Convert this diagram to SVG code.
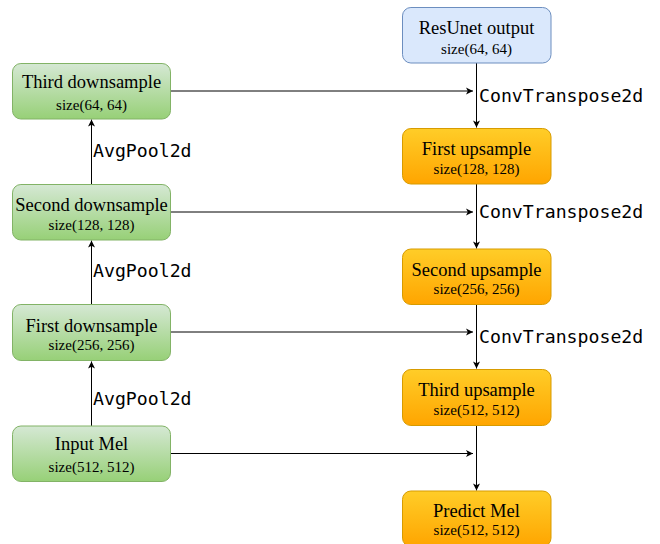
<svg xmlns="http://www.w3.org/2000/svg" width="660" height="544" viewBox="0 0 660 544">
<defs>
<linearGradient id="gGreen" x1="0" y1="0" x2="0" y2="1"><stop offset="0" stop-color="#d5e8d4"/><stop offset="1" stop-color="#97d077"/></linearGradient>
<linearGradient id="gOrange" x1="0" y1="0" x2="0" y2="1"><stop offset="0" stop-color="#ffcd28"/><stop offset="1" stop-color="#ffa500"/></linearGradient>
<marker id="arr" markerUnits="userSpaceOnUse" markerWidth="10" markerHeight="10" viewBox="0 0 10 10" refX="8" refY="5" orient="auto">
<path d="M1,1.5 L8,5 L1,8.5 L2.8,5 Z" fill="#000"/>
</marker>
<style>
.green{fill:url(#gGreen);stroke:#82b366;stroke-width:1}
.blue{fill:#dae8fc;stroke:#6c8ebf;stroke-width:1}
.orange{fill:url(#gOrange);stroke:#d79b00;stroke-width:1}
.t{font-family:"Liberation Serif","Times New Roman",serif;font-size:18.5px;fill:#000;text-anchor:middle}
.s{font-family:"Liberation Serif","Times New Roman",serif;font-size:15px;fill:#000;text-anchor:middle}
.m{font-family:"DejaVu Sans Mono",monospace;font-size:18.2px;fill:#000}
.c{stroke:#000;stroke-width:1;fill:none;marker-end:url(#arr)}
</style>
</defs>
<rect width="660" height="544" fill="#fff"/>
<g id="connectors">
<path class="c" d="M91.5,184 L91.5,119.5"/>
<path class="c" d="M91.5,304 L91.5,240.5"/>
<path class="c" d="M91.5,426 L91.5,361.5"/>
<path class="c" d="M171,91 L473,91"/>
<path class="c" d="M171,212 L473,212"/>
<path class="c" d="M171,332 L473,332"/>
<path class="c" d="M171,453.5 L473,453.5"/>
<path class="c" d="M476.5,63 L476.5,127.5"/>
<path class="c" d="M476.5,184 L476.5,248.5"/>
<path class="c" d="M476.5,305 L476.5,368.5"/>
<path class="c" d="M476.5,426 L476.5,490.5"/>
<text class="m" x="93" y="157">AvgPool2d</text>
<text class="m" x="93" y="277">AvgPool2d</text>
<text class="m" x="93" y="405">AvgPool2d</text>
<text class="m" x="479" y="102">ConvTranspose2d</text>
<text class="m" x="479" y="218">ConvTranspose2d</text>
<text class="m" x="479" y="343">ConvTranspose2d</text>
</g>
<g id="third-down">
<rect class="green" x="12.5" y="63.5" width="158" height="55.5" rx="8.4"/>
<text class="t" x="91.5" y="87.5">Third downsample</text>
<text class="s" x="91.5" y="110">size(64, 64)</text>
</g>
<g id="second-down">
<rect class="green" x="12.5" y="184.5" width="158" height="55.5" rx="8.4"/>
<text class="t" x="91.5" y="210.5">Second downsample</text>
<text class="s" x="91.5" y="230">size(128, 128)</text>
</g>
<g id="first-down">
<rect class="green" x="12.5" y="304.5" width="158" height="56" rx="8.4"/>
<text class="t" x="91.5" y="331.5">First downsample</text>
<text class="s" x="91.5" y="350">size(256, 256)</text>
</g>
<g id="input-mel">
<rect class="green" x="12.5" y="426" width="158" height="55.5" rx="8.4"/>
<text class="t" x="91.5" y="449.5">Input Mel</text>
<text class="s" x="91.5" y="471.5">size(512, 512)</text>
</g>
<g id="resunet">
<rect class="blue" x="402.5" y="7.5" width="148.5" height="55.5" rx="8.4"/>
<text class="t" x="476.5" y="33.5">ResUnet output</text>
<text class="s" x="476.5" y="53.5">size(64, 64)</text>
</g>
<g id="first-up">
<rect class="orange" x="402.5" y="128.5" width="148.5" height="55.5" rx="8.4"/>
<text class="t" x="476.5" y="155">First upsample</text>
<text class="s" x="476.5" y="173.5">size(128, 128)</text>
</g>
<g id="second-up">
<rect class="orange" x="402.5" y="249" width="148.5" height="55.5" rx="8.4"/>
<text class="t" x="476.5" y="276">Second upsample</text>
<text class="s" x="476.5" y="294">size(256, 256)</text>
</g>
<g id="third-up">
<rect class="orange" x="402.5" y="369.5" width="148.5" height="56" rx="8.4"/>
<text class="t" x="476.5" y="396">Third upsample</text>
<text class="s" x="476.5" y="414.5">size(512, 512)</text>
</g>
<g id="predict-mel">
<rect class="orange" x="402.5" y="491" width="148.5" height="55.5" rx="8.4"/>
<text class="t" x="476.5" y="517">Predict Mel</text>
<text class="s" x="476.5" y="535">size(512, 512)</text>
</g>
</svg>
